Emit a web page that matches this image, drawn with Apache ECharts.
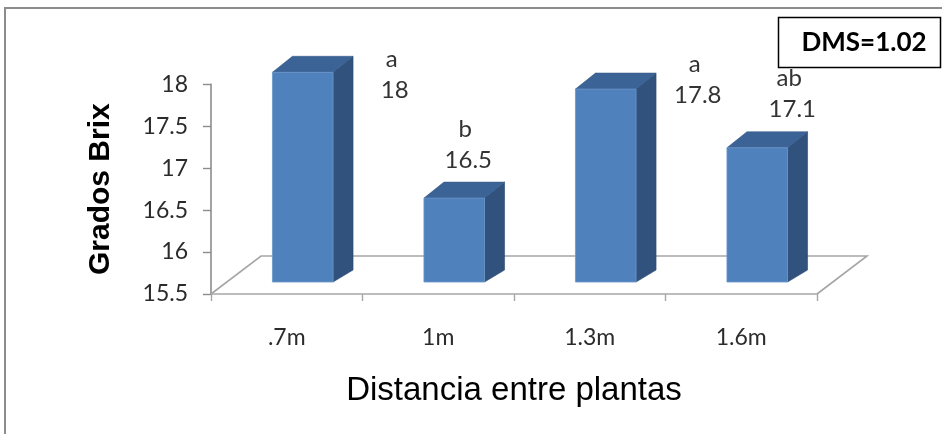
<!DOCTYPE html>
<html>
<head>
<meta charset="utf-8">
<script src="https://cdn.jsdelivr.net/npm/echarts@6/dist/echarts.min.js"></script>
<style>
  html, body { margin: 0; padding: 0; background: #fff; }
  #chart { width: 942px; height: 434px; }
</style>
</head>
<body>
<div id="chart"></div>
<script>
// Grados Brix por distancia entre plantas
const categories = ['.7m', '1m', '1.3m', '1.6m'];
const brixValues = [18, 16.5, 17.8, 17.1];
const groupLetters = ['a', 'b', 'a', 'ab'];
const yTicks = { min: 15.5, max: 18, interval: 0.5 };
const dmsText = 'DMS=1.02';

// label placement (pixels from the value point on the axis plane)
const labelOffsets = [[108, 6], [30, -50], [108, -6], [51, -51]];

// pseudo-3D geometry
const FLOOR_DEPTH = [50, -38];   // floor depth skew
const BAR_SHIFT = [16, -12];     // bar front plane relative to axis plane
const BAR_DEPTH = [20, -16];     // bar thickness in depth
const BAR_RATIO = 0.4;

const labelFont = 'Lato, "Open Sans", "DejaVu Sans", sans-serif';

const chart = echarts.init(document.getElementById('chart'), null, { renderer: 'canvas' });

function renderFloor(params, api) {
  const cs = params.coordSys;
  const x0 = cs.x, x1 = cs.x + cs.width, y0 = cs.y + cs.height;
  const dx = FLOOR_DEPTH[0], dy = FLOOR_DEPTH[1];
  return {
    type: 'polyline',
    shape: { points: [[x0, y0], [x0 + dx, y0 + dy], [x1 + dx, y0 + dy], [x1, y0]] },
    style: { stroke: '#a6a6a6', lineWidth: 1.6, fill: null }
  };
}

function renderBar(params, api) {
  const i = api.value(0);
  const v = api.value(1);
  const base = api.coord([i, yTicks.min]);
  const top = api.coord([i, v]);
  const band = api.size([1, 0])[0];
  const w = band * BAR_RATIO;
  const xl = top[0] - w / 2 + BAR_SHIFT[0];
  const xr = top[0] + w / 2 + BAR_SHIFT[0];
  const yt = top[1] + BAR_SHIFT[1];
  const yb = base[1] + BAR_SHIFT[1];
  const ddx = BAR_DEPTH[0], ddy = BAR_DEPTH[1];
  const off = labelOffsets[params.dataIndex];
  const lx = top[0] + off[0], ly = top[1] + off[1];
  return {
    type: 'group',
    children: [
      { type: 'polygon', shape: { points: [[xr, yt], [xr + ddx, yt + ddy], [xr + ddx, yb + ddy + 4], [xr, yb]] },
        style: { fill: '#31527d', stroke: '#2c4a72', lineWidth: 0.6 } },
      { type: 'polygon', shape: { points: [[xl, yt], [xl + ddx, yt + ddy], [xr + ddx, yt + ddy], [xr, yt]] },
        style: { fill: '#3c6396', stroke: '#365a89', lineWidth: 0.6 } },
      { type: 'rect', shape: { x: xl, y: yt, width: xr - xl, height: yb - yt },
        style: { fill: '#4f81bd', stroke: '#6b95c9', lineWidth: 0.8 } },
      { type: 'text', x: lx, y: ly,
        style: { text: String(v), font: '24px ' + labelFont, fill: '#333', align: 'center', verticalAlign: 'middle' } },
      { type: 'text', x: lx - 3, y: ly - 31,
        style: { text: groupLetters[params.dataIndex], font: '24px ' + labelFont, fill: '#333', align: 'center', verticalAlign: 'middle' } }
    ]
  };
}

chart.setOption({
  animation: false,
  grid: { left: 211, right: 125, top: 84.3, bottom: 140 },
  xAxis: {
    type: 'category',
    data: categories,
    axisLine: { lineStyle: { color: '#a6a6a6', width: 1.6 } },
    axisTick: { show: true, length: 7, lineStyle: { color: '#a6a6a6', width: 1.4 } },
    axisLabel: { margin: 32, fontSize: 23, fontFamily: labelFont, color: '#2b2b2b' },
    name: 'Distancia entre plantas',
    nameLocation: 'middle',
    nameGap: 80,
    nameTextStyle: { fontSize: 33, fontFamily: '"Liberation Sans", Arial, sans-serif', color: '#000' }
  },
  yAxis: {
    type: 'value',
    min: yTicks.min,
    max: yTicks.max,
    interval: yTicks.interval,
    axisLine: { show: true, lineStyle: { color: '#8c8c8c', width: 1.6 } },
    axisTick: { show: true, length: 8, lineStyle: { color: '#8c8c8c', width: 1.4 } },
    splitLine: { show: false },
    axisLabel: { margin: 23, fontSize: 23, fontFamily: labelFont, color: '#2b2b2b' },
    name: 'Grados Brix',
    nameLocation: 'middle',
    nameRotate: 90,
    nameGap: 95,
    nameTextStyle: { fontSize: 30, fontWeight: 'bold', fontFamily: '"Liberation Sans", Arial, sans-serif', color: '#000' }
  },
  graphic: [
    { type: 'rect', shape: { x: 5, y: 8, width: 960, height: 450 }, style: { fill: null, stroke: '#8c8c8c', lineWidth: 2 }, z: 0 },
    { type: 'rect', shape: { x: 778.5, y: 17.5, width: 162, height: 50 }, style: { fill: '#fff', stroke: '#000', lineWidth: 1.5 }, z: 10 },
    { type: 'text', x: 864, y: 43, style: { text: dmsText, font: 'bold 26px ' + labelFont, fill: '#000', align: 'center', verticalAlign: 'middle' }, z: 11 }
  ],
  series: [
    { type: 'custom', renderItem: renderFloor, data: [[0, yTicks.min]], z: 1, silent: true },
    { type: 'custom', renderItem: renderBar, data: brixValues.map((v, i) => [i, v]), z: 3, clip: false }
  ]
});
</script>
</body>
</html>
